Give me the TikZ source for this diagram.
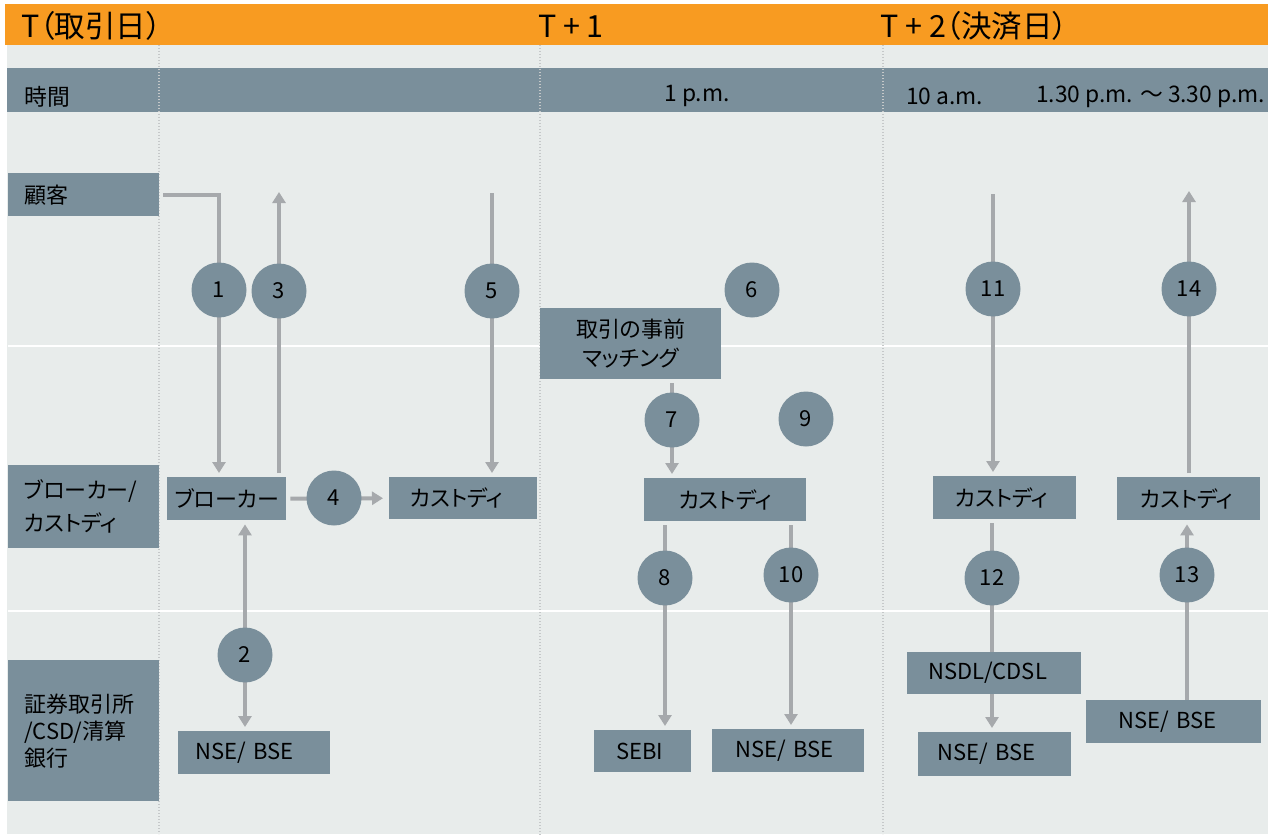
\documentclass[tikz,border=0pt]{standalone}
\usepackage{fontspec}
\setmainfont{Noto Sans CJK JP}[RawFeature=+palt]
\usetikzlibrary{arrows.meta}
\definecolor{orng}{HTML}{F89B21}
\definecolor{bgc}{HTML}{E8ECEB}
\definecolor{boxc}{HTML}{7A8F9B}
\definecolor{arrc}{HTML}{A6A9AC}
\definecolor{dotc}{HTML}{C5C8C9}
\pgfdeclarelayer{back}
\pgfdeclarelayer{mid}
\pgfsetlayers{back,mid,main}
\begin{document}
\begin{tikzpicture}[x=1pt,y=-1pt,
  box/.style={fill=boxc, inner ysep=0pt, text=black, font=\fontsize{22}{27}\selectfont, align=left, anchor=north west},
  cbox/.style={fill=boxc, inner sep=0pt, text=black, font=\fontsize{22}{27}\selectfont, align=center, anchor=north west},
  circ/.style={circle, fill=boxc, minimum size=55pt, inner sep=0pt, text=black, font=\fontsize{22}{22}\selectfont},
  arr/.style={draw=arrc, line width=4pt, -{Triangle[width=13pt,length=11pt]}, shorten >=4pt, shorten <=4pt},
  darr/.style={draw=arrc, line width=4pt, {Triangle[width=13pt,length=11pt]}-{Triangle[width=13pt,length=11pt]}, shorten >=4pt, shorten <=4pt},
  ln/.style={draw=arrc, line width=4pt, shorten <=4pt},
  dotl/.style={dotc, line width=1.3pt, dash pattern=on 1.3pt off 1.7pt},
  hdrtxt/.style={inner sep=0pt, text=black, font=\fontsize{30.5}{30.5}\selectfont},
  tmtxt/.style={inner sep=0pt, text=black, font=\fontsize{22.8}{22.8}\selectfont}]
\useasboundingbox (0,0) rectangle (1273,837);

\begin{pgfonlayer}{back}
  \fill[bgc] (7,45) rectangle (1268,834);
  \node[fill=orng, anchor=north west, minimum width=1263pt, minimum height=41pt, inner sep=0pt] (hdr) at (5,4) {};
  \node[fill=boxc, anchor=north west, minimum width=1261pt, minimum height=44pt, inner sep=0pt] (tbar) at (7,68) {};
  \draw[white, line width=2.5pt] (8,346) -- (1268,346);
  \draw[white, line width=2.5pt] (8,611) -- (1268,611);
  \draw[dotl] (159,45) -- (159,834);
  \draw[dotl] (540,45) -- (540,837);
  \draw[dotl] (883,45) -- (883,834);
\end{pgfonlayer}

% header texts
\node[hdrtxt, anchor=west] (hT) at (21,26) {T（取引日）};
\node[hdrtxt] (hT1) at (571,26) {T + 1};
\node[hdrtxt, anchor=west] (hT2) at (880,26) {T + 2（決済日）};

% time bar texts
\node[tmtxt, anchor=west] (tmlbl) at (24,97) {時間};
\node[tmtxt] (tm1) at (697,96) {1 p.m.};
\node[tmtxt, anchor=west] (tm2) at (906,96) {10 a.m.};
\node[tmtxt, anchor=west] (tm3) at (1036,97) {1.30 p.m. ～ 3.30 p.m.};

% row labels
\node[box, inner xsep=16pt, text width=119pt, minimum height=43pt] (cust) at (8,173) {顧客};
\node[box, inner xsep=16pt, text width=119pt, minimum height=83pt, font=\fontsize{22}{33}\selectfont] (bclbl) at (8,465) {ブローカー/\\カストディ};
\node[box, inner xsep=16pt, text width=119pt, minimum height=141pt, font=\fontsize{22}{27}\selectfont] (exlbl) at (8,660) {証券取引所\\/CSD/清算\\銀行};

% boxes
\node[cbox, minimum width=119pt, minimum height=43pt] (broker) at (167,477) {ブローカー};
\node[box, inner xsep=21pt, text width=106pt, minimum height=42pt] (custT) at (389,477) {カストディ};
\node[box, inner xsep=17pt, text width=118pt, minimum height=43pt] (nseT) at (178,731) {NSE/ BSE};
\node[cbox, minimum width=181pt, minimum height=71pt, font=\fontsize{22}{29}\selectfont] (match) at (540,308) {取引の事前\\マッチング};
\node[cbox, minimum width=162pt, minimum height=43pt] (custT1) at (644,478) {カストディ};
\node[box, inner xsep=22pt, text width=53pt, minimum height=42pt] (sebi) at (594,730) {SEBI};
\node[box, inner xsep=23pt, text width=106pt, minimum height=43pt] (nseT1) at (712,729) {NSE/ BSE};
\node[box, inner xsep=22pt, text width=99pt, minimum height=43pt] (custA) at (933,476) {カストディ};
\node[box, inner xsep=23pt, text width=97pt, minimum height=43pt] (custB) at (1117,477) {カストディ};
\node[box, inner xsep=21pt, text width=132pt, minimum height=42pt] (nsdl) at (907,652) {NSDL/CDSL};
\node[box, inner xsep=19pt, text width=115pt, minimum height=44pt] (nseA) at (918,732) {NSE/ BSE};
\node[box, inner xsep=32pt, text width=111pt, minimum height=43pt] (nseB) at (1086,700) {NSE/ BSE};

% circles
\node[circ] (n1) at (219,290) {1};
\node[circ] (n2) at (245,655) {2};
\node[circ] (n3) at (279,291) {3};
\node[circ] (n4) at (334,498) {4};
\node[circ] (n5) at (492,291) {5};
\node[circ] (n6) at (752,290) {6};
\node[circ] (n7) at (672,420) {7};
\node[circ] (n8) at (665,578) {8};
\node[circ] (n9) at (806,419) {9};
\node[circ] (n10) at (791,575) {10};
\node[circ] (n11) at (993,289) {11};
\node[circ] (n12) at (992,578) {12};
\node[circ] (n13) at (1187,575) {13};
\node[circ] (n14) at (1189,289) {14};

% free ends
\coordinate (e3) at (279,192);
\coordinate (s5) at (492,193);
\coordinate (s11) at (993,194);
\coordinate (e14) at (1189,191);

\begin{pgfonlayer}{mid}
  \draw[arr] (cust.east) -| (n1 |- broker.north);
  \draw[arr, shorten >=0pt] (n3 |- broker.north) -- (e3);
  \draw[arr, shorten <=0pt] (s5) -- (n5 |- custT.north);
  \draw[arr, shorten >=6pt] (broker.east) -- (custT.west);
  \draw[darr] (n2 |- broker.south) -- (n2 |- nseT.north);
  \draw[arr] (n7 |- match.south) -- (n7 |- custT1.north);
  \draw[arr] (n8 |- custT1.south) -- (n8 |- sebi.north);
  \draw[arr] (n10 |- custT1.south) -- (n10 |- nseT1.north);
  \draw[arr, shorten <=0pt] (s11) -- (n11 |- custA.north);
  \draw[arr, shorten >=0pt] (n14 |- custB.north) -- (e14);
  \draw[ln] (n12 |- custA.south) -- (n12 |- nsdl.north);
  \draw[arr, shorten <=0pt] (n12 |- nsdl.south) -- (n12 |- nseA.north);
  \draw[arr, shorten <=0pt] (n13 |- nseB.north) -- (n13 |- custB.south);
\end{pgfonlayer}
\end{tikzpicture}
\end{document}
